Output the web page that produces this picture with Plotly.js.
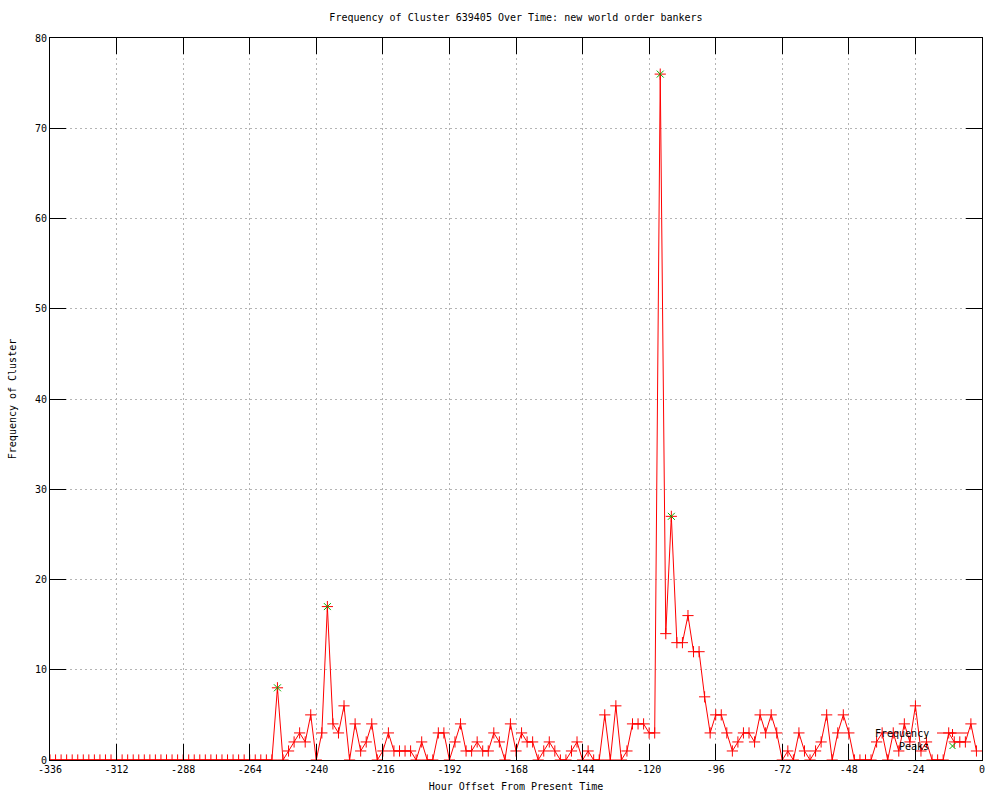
<!DOCTYPE html>
<html>
<head>
<meta charset="utf-8">
<script src="https://cdn.plot.ly/plotly-3.0.1.min.js"></script>
<style>html,body{margin:0;padding:0;background:#fff;}#chart{width:1000px;height:800px;}</style>
</head>
<body>
<div id="chart"></div>
<script>
// Hour offsets (every 2 hours)
const hours = [-336,-334,-332,-330,-328,-326,-324,-322,-320,-318,-316,-314,-312,-310,-308,-306,-304,-302,-300,-298,
-296,-294,-292,-290,-288,-286,-284,-282,-280,-278,-276,-274,-272,-270,-268,-266,-264,-262,-260,-258,
-256,-254,-252,-250,-248,-246,-244,-242,-240,-238,-236,-234,-232,-230,-228,-226,-224,-222,-220,-218,
-216,-214,-212,-210,-208,-206,-204,-202,-200,-198,-196,-194,-192,-190,-188,-186,-184,-182,-180,-178,
-176,-174,-172,-170,-168,-166,-164,-162,-160,-158,-156,-154,-152,-150,-148,-146,-144,-142,-140,-138,
-136,-134,-132,-130,-128,-126,-124,-122,-120,-118,-116,-114,-112,-110,-108,-106,-104,-102,-100,-98,
-96,-94,-92,-90,-88,-86,-84,-82,-80,-78,-76,-74,-72,-70,-68,-66,-64,-62,-60,-58,
-56,-54,-52,-50,-48,-46,-44,-42,-40,-38,-36,-34,-32,-30,-28,-26,-24,-22,-20,-18,
-16,-14,-12,-10,-8,-6,-4,-2];

// Frequency of cluster per time bucket
const frequency = [0,0,0,0,0,0,0,0,0,0,0,0,0,0,0,0,0,0,0,0,
0,0,0,0,0,0,0,0,0,0,0,0,0,0,0,0,0,0,0,0,
0,8,0,1,2,3,2,5,0,3,17,4,3,6,0,4,1,2,4,0,
1,3,1,1,1,1,0,2,0,0,3,3,0,2,4,1,1,2,1,1,
3,2,0,4,1,3,2,2,0,1,2,1,0,0,1,2,0,1,0,0,
5,0,6,0,1,4,4,4,3,3,76,14,27,13,13,16,12,12,7,3,
5,5,3,1,2,3,3,2,5,3,5,3,0,1,0,3,1,0,1,2,
5,0,3,5,3,0,0,0,0,2,3,0,3,1,4,2,6,1,2,0,
0,0,3,2,2,2,4,1];

// Detected peaks
const peakHours = [-254, -236, -116, -112];
const peakValues = [8, 17, 76, 27];

const xTicks = [-336,-312,-288,-264,-240,-216,-192,-168,-144,-120,-96,-72,-48,-24,0];
const yTicks = [0,10,20,30,40,50,60,70,80];

const FONT = 'DejaVu Sans Mono, monospace';

const traces = [
  {
    x: hours, y: frequency, type: 'scatter', mode: 'lines+markers', name: 'Frequency',
    line: {color: '#ff0000', width: 1},
    marker: {symbol: 'cross-thin', size: 8, line: {color: '#ff0000', width: 1}, color: '#ff0000'},
    showlegend: false, hoverinfo: 'x+y'
  },
  {
    x: peakHours, y: peakValues, type: 'scatter', mode: 'markers', name: 'Peaks',
    marker: {symbol: 'x-thin', size: 7, line: {color: '#00b000', width: 1}, color: '#00b000'},
    showlegend: false
  }
];

// Manual gnuplot-style key (text left of sample)
const W = 932, H = 722;
const px = v => v / W, py = v => v / H;
const keyX = px(902.5), keyY1 = py(27), keyY2 = py(14);

const layout = {
  width: 1000, height: 800,
  margin: {l: 50, r: 18, t: 38, b: 40, pad: 0},
  paper_bgcolor: '#ffffff', plot_bgcolor: '#ffffff',
  font: {family: FONT, size: 10, color: '#000'},
  title: {text: 'Frequency of Cluster 639405 Over Time: new world order bankers',
          font: {family: FONT, size: 10, color: '#000'}, x: 0.516, xanchor: 'center', y: 0.978, yanchor: 'middle'},
  xaxis: {
    range: [-336, 0], tickmode: 'array', tickvals: xTicks, ticktext: xTicks.map(String),
    ticks: 'inside', ticklen: 16, tickwidth: 1, tickcolor: '#000',
    showline: true, linecolor: '#000', linewidth: 1, mirror: 'ticks',
    showgrid: true, gridcolor: '#b4b4b4', griddash: '2px,3px', gridwidth: 1,
    zeroline: false, tickfont: {family: FONT, size: 10, color: '#000'},
    title: {text: 'Hour Offset From Present Time', font: {family: FONT, size: 10, color: '#000'}, standoff: 8}
  },
  yaxis: {
    range: [0, 80], tickmode: 'array', tickvals: yTicks, ticktext: yTicks.map(String),
    ticks: 'inside', ticklen: 16, tickwidth: 1, tickcolor: '#000',
    showline: true, linecolor: '#000', linewidth: 1, mirror: 'ticks',
    showgrid: true, gridcolor: '#b4b4b4', griddash: '2px,3px', gridwidth: 1,
    zeroline: false, tickfont: {family: FONT, size: 10, color: '#000'},
    title: {text: 'Frequency of Cluster', font: {family: FONT, size: 10, color: '#000'}, standoff: 16}
  },
  shapes: [
    {type: 'line', xref: 'paper', yref: 'paper', x0: px(887), x1: px(918), y0: keyY1, y1: keyY1, line: {color: '#ff0000', width: 1}},
    {type: 'line', xref: 'paper', yref: 'paper', x0: keyX - px(4), x1: keyX + px(4), y0: keyY1, y1: keyY1, line: {color: '#ff0000', width: 1}},
    {type: 'line', xref: 'paper', yref: 'paper', x0: keyX, x1: keyX, y0: keyY1 - py(4), y1: keyY1 + py(4), line: {color: '#ff0000', width: 1}},
    {type: 'line', xref: 'paper', yref: 'paper', x0: keyX - px(3), x1: keyX + px(3), y0: keyY2 - py(3), y1: keyY2 + py(3), line: {color: '#00b000', width: 1}},
    {type: 'line', xref: 'paper', yref: 'paper', x0: keyX - px(3), x1: keyX + px(3), y0: keyY2 + py(3), y1: keyY2 - py(3), line: {color: '#00b000', width: 1}}
  ],
  annotations: [
    {xref: 'paper', yref: 'paper', x: px(881), y: keyY1, xanchor: 'right', yanchor: 'middle', text: 'Frequency', showarrow: false, font: {family: FONT, size: 10, color: '#000'}},
    {xref: 'paper', yref: 'paper', x: px(881), y: keyY2, xanchor: 'right', yanchor: 'middle', text: 'Peaks', showarrow: false, font: {family: FONT, size: 10, color: '#000'}}
  ],
  showlegend: false
};

Plotly.newPlot('chart', traces, layout, {displayModeBar: false, staticPlot: true});
</script>
</body>
</html>
